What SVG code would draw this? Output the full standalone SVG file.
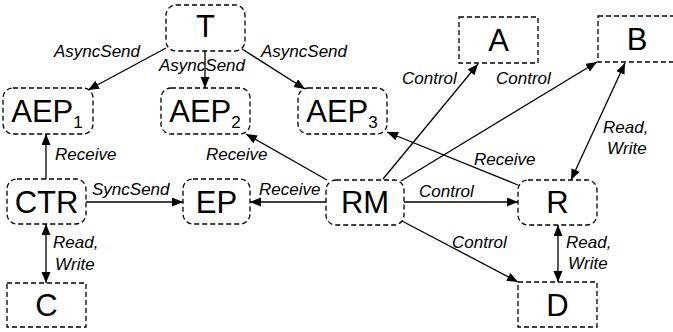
<svg xmlns="http://www.w3.org/2000/svg" width="673" height="332" viewBox="0 0 673 332">
  <defs>
    <marker id="arrow" markerUnits="userSpaceOnUse" markerWidth="12" markerHeight="10" refX="11" refY="4.5" orient="auto-start-reverse">
      <path d="M0,0 L11,4.5 L0,9 z" fill="#000"/>
    </marker>
    <style>
      .box { fill: #fff; stroke: #000; stroke-width: 1.3; stroke-dasharray: 5 3; }
      .name { font-family: "Liberation Sans", Arial, Helvetica, sans-serif; font-size: 31px; fill: #000; text-anchor: middle; }
      .sub { font-size: 17px; }
      .lbl { font-family: "Liberation Sans", Arial, Helvetica, sans-serif; font-size: 17px; font-style: italic; fill: #000; }
      .edge { fill: none; stroke: #000; stroke-width: 1.3; }
      .one { marker-end: url(#arrow); }
      .two { marker-start: url(#arrow); marker-end: url(#arrow); }
    </style>
  </defs>
  <rect width="673" height="332" fill="#fff"/>

  <!-- connectors -->
  <g id="connectors">
    <path class="edge one" d="M166,48 L88,90"/>
    <path class="edge one" d="M205,51 L205,88"/>
    <path class="edge one" d="M242,49 L305,89"/>
    <path class="edge one" d="M46,179 L46,134"/>
    <path class="edge one" d="M86,202 L183,202"/>
    <path class="edge one" d="M326,202 L250,202"/>
    <path class="edge one" d="M327,180 L246,134"/>
    <path class="edge one" d="M383,179 L478,64"/>
    <path class="edge one" d="M401,181 L597,62"/>
    <path class="edge one" d="M404,202 L518,202"/>
    <path class="edge one" d="M402,221 L518,282"/>
    <path class="edge one" d="M518,185 L387,132"/>
    <path class="edge two" d="M625,63 L571,180"/>
    <path class="edge two" d="M558,225 L558,282"/>
    <path class="edge two" d="M46,224 L46,283"/>

    <text class="lbl" x="54" y="57">AsyncSend</text>
    <text class="lbl" x="159" y="71">AsyncSend</text>
    <text class="lbl" x="261" y="57">AsyncSend</text>
    <text class="lbl" x="55" y="160">Receive</text>
    <text class="lbl" x="206" y="160">Receive</text>
    <text class="lbl" x="474" y="165">Receive</text>
    <text class="lbl" x="259" y="195">Receive</text>
    <text class="lbl" x="92" y="195">SyncSend</text>
    <text class="lbl" x="402" y="84">Control</text>
    <text class="lbl" x="496" y="84">Control</text>
    <text class="lbl" x="419" y="197">Control</text>
    <text class="lbl" x="452" y="248">Control</text>
    <text class="lbl" x="603" y="133">Read,</text>
    <text class="lbl" x="607" y="154">Write</text>
    <text class="lbl" x="53" y="248">Read,</text>
    <text class="lbl" x="55" y="270">Write</text>
    <text class="lbl" x="566" y="248">Read,</text>
    <text class="lbl" x="568" y="269">Write</text>
  </g>

  <!-- nodes -->
  <g id="T">
    <rect class="box" x="166" y="5" width="79" height="46" rx="10"/>
    <text class="name" x="205.5" y="37">T</text>
  </g>
  <g id="AEP1">
    <rect class="box" x="3" y="88" width="90" height="46" rx="10"/>
    <text class="name" x="47" y="122">AEP<tspan class="sub" dy="6">1</tspan></text>
  </g>
  <g id="AEP2">
    <rect class="box" x="161" y="88" width="89" height="46" rx="10"/>
    <text class="name" x="205" y="122">AEP<tspan class="sub" dy="6">2</tspan></text>
  </g>
  <g id="AEP3">
    <rect class="box" x="298" y="88" width="89" height="46" rx="10"/>
    <text class="name" x="342" y="122">AEP<tspan class="sub" dy="6">3</tspan></text>
  </g>
  <g id="A">
    <rect class="box" x="459" y="17" width="79" height="46"/>
    <text class="name" x="498.5" y="51">A</text>
  </g>
  <g id="B">
    <rect class="box" x="598" y="16" width="79" height="46"/>
    <text class="name" x="637" y="50">B</text>
  </g>
  <g id="CTR">
    <rect class="box" x="7" y="179" width="79" height="45" rx="10"/>
    <text class="name" x="46.5" y="213">CTR</text>
  </g>
  <g id="EP">
    <rect class="box" x="183" y="179" width="67" height="45" rx="10"/>
    <text class="name" x="216.5" y="213">EP</text>
  </g>
  <g id="RM">
    <rect class="box" x="326" y="180" width="78" height="45" rx="10"/>
    <text class="name" x="365" y="213">RM</text>
  </g>
  <g id="R">
    <rect class="box" x="518" y="180" width="79" height="45" rx="10"/>
    <text class="name" x="557.5" y="213">R</text>
  </g>
  <g id="C">
    <rect class="box" x="7" y="283" width="79" height="44"/>
    <text class="name" x="46.5" y="316">C</text>
  </g>
  <g id="D">
    <rect class="box" x="518" y="282" width="79" height="45"/>
    <text class="name" x="557.5" y="316">D</text>
  </g>
</svg>
